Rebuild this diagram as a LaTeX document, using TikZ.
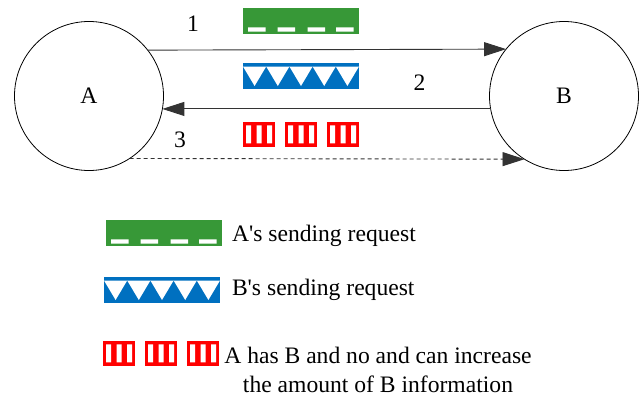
\documentclass[tikz,border=0pt]{standalone}
\usepackage{fontspec}
\setmainfont{Liberation Serif}
\usetikzlibrary{arrows.meta}
\definecolor{grn}{RGB}{55,152,55}
\definecolor{blu}{RGB}{0,112,192}
\definecolor{rd}{RGB}{255,0,0}
\tikzset{
  x=1pt, y=-1pt,
  every node/.style={font=\fontsize{23.6}{29}\selectfont, inner sep=0pt, outer sep=0pt},
  station/.style={circle, draw=black, line width=0.8pt, minimum size=149pt},
  conn/.style={draw=black!80, line width=0.9pt, -{Triangle[length=22pt,width=14pt]}},
  dashconn/.style={conn, dash pattern=on 4pt off 3pt},
  greenbar/.pic={
    \fill[grn] (0,0) rectangle (116,26);
    \fill[white] foreach \a in {5,34.5,64.5,93} {(\a,19.3) rectangle ++(17.5,4.4)};
  },
  bluebar/.pic={
    \fill[blu] (0,0) rectangle (116,26);
    \fill[white] foreach \i in {0,...,4} {({\i*23.2},3.5) -- ({\i*23.2+23.2},3.5) -- ({\i*23.2+11.6},23) -- cycle};
  },
  redbars/.pic={
    \foreach \o in {0,42,84} {
      \fill[rd] (\o,0) rectangle ++(32,24.5);
      \fill[white] foreach \b in {3,13.5,24} {(\o+\b,3.3) rectangle ++(5,18)};
    }
  }
}
\begin{document}
\begin{tikzpicture}
\useasboundingbox (0,0) rectangle (640,399);
% stations
\node[station] (A) at (89,96) {A};
\node[station] (B) at (564,96) {B};
% connectors
\draw[conn] (A.38.1) -- (B.141.9);
\draw[conn] (B.190) -- (A.-10);
\draw[dashconn] (A.-57.7) -- (B.-122.3);
% labels
\node (n1) at (193,23.5) {1};
\node (n2) at (419.5,83) {2};
\node (n3) at (180,139.5) {3};
% icons on the links
\pic at (243,8) {greenbar};
\pic at (243,63) {bluebar};
\pic at (243,122) {redbars};
% legend
\pic at (106,220) {greenbar};
\pic at (104,277) {bluebar};
\pic at (103,341) {redbars};
\node[anchor=base west] (lg1) at (232,241) {A\textquotesingle s sending request};
\node[anchor=base west] (lg2) at (232,295) {B\textquotesingle s sending request};
\node[anchor=base, align=center] (lg3) at (378,392) {A has B and no and can increase\\the amount of B information};
\end{tikzpicture}
\end{document}
